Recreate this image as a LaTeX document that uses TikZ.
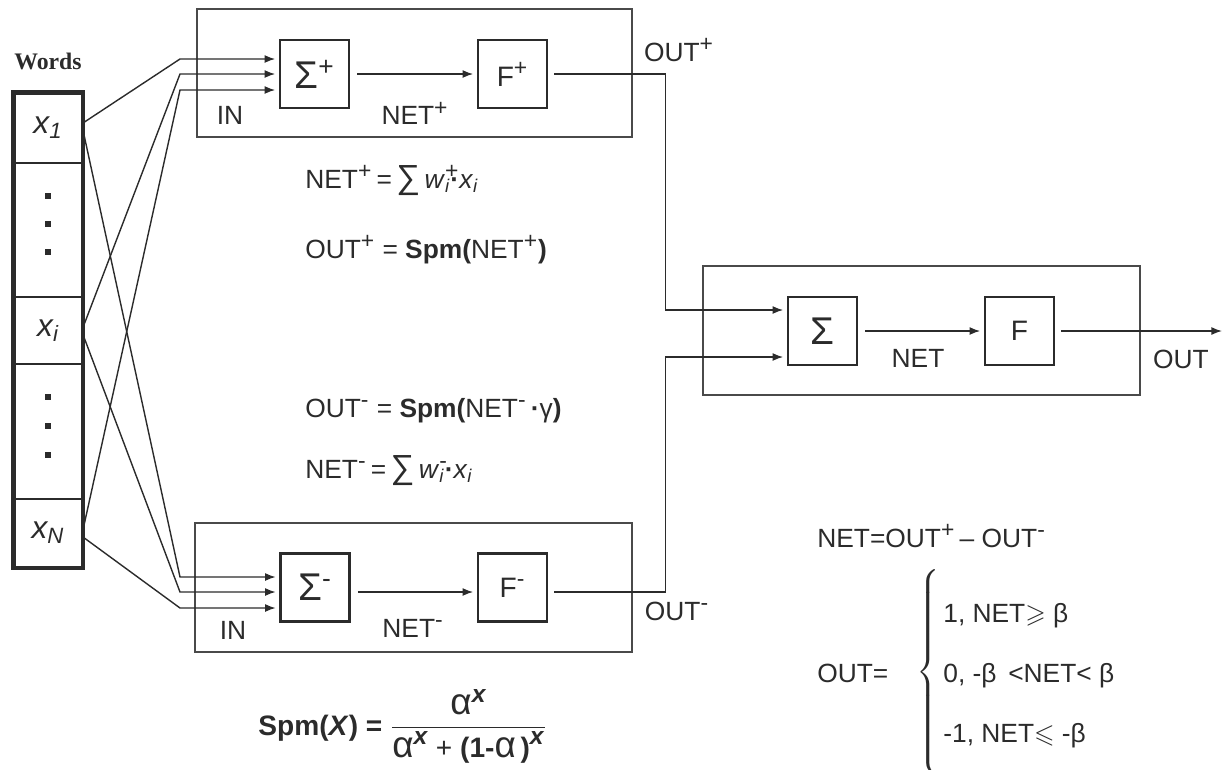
\documentclass[tikz,border=0pt]{standalone}
\usepackage{fontspec}
\usepackage{amsmath,amssymb}
\setmainfont{Liberation Sans}
\newfontfamily\wordsfont{Liberation Serif}
\usetikzlibrary{arrows.meta,positioning,calc}
\definecolor{ink}{HTML}{2B2B2B}
\definecolor{framegray}{HTML}{4A4A4A}
\newcommand{\sigfont}{\fontsize{22}{24}\selectfont}
\newcommand{\fnfont}{\fontsize{16}{18}\selectfont}
\newcommand{\sups}[1]{\textsuperscript{\fontsize{13}{13}\selectfont #1}}
\newcommand{\bigsups}[1]{\textsuperscript{\fontsize{15}{15}\selectfont #1}}
\newcommand{\sumsign}{{\fontsize{19}{19}\selectfont ∑}}
\newcommand{\alf}{\text{\fontsize{21}{21}\selectfont α}}
\newcommand{\xpow}{^{\text{\fontsize{14}{14}\selectfont\bfseries\itshape x}}}
\tikzset{
  frame/.style={draw=framegray, line width=0.9pt},
  unit/.style={draw=ink, line width=1.5pt, minimum width=1.38cm, minimum height=1.36cm, inner sep=0pt},
  cell/.style={draw=ink, line width=1.1pt, minimum width=1.36cm, inner sep=0pt, font=\fontsize{18}{20}\selectfont\itshape},
  wire/.style={draw=ink, line width=0.8pt},
  feed/.style={wire, -{Latex[length=6pt,width=4.5pt]}, shorten >=2pt},
  lbl/.style={inner sep=0pt},
  eq/.style={inner sep=0pt, anchor=base west},
}

\begin{document}
\begin{tikzpicture}[x=0.02cm, y=-0.02cm, font=\fontsize{15}{18}\selectfont, color=ink]
  \useasboundingbox (0,0) rectangle (1232,769);

  % word column
  \node[font=\wordsfont\bfseries\fontsize{13.5}{15}\selectfont] (words) at (48,61) {Words};
  \node[cell, minimum height=1.4cm] (w1) at (48,128) {x\textsubscript{1}};
  \node[cell, minimum height=2.68cm] (d1) at (48,230) {};
  \node[cell, minimum height=1.34cm] (wi) at (48,330.5) {x\textsubscript{i}};
  \node[cell, minimum height=2.7cm] (d2) at (48,431.5) {};
  \node[cell, minimum height=1.36cm] (wn) at (48,533) {x\textsubscript{N}};
  \draw[ink, line width=2.8pt] (w1.north west) rectangle (wn.south east);
  \foreach \y in {196,224,252,397,426,455}
    \fill[ink] (45,\y-3) rectangle (51,\y+3);

  % upper unit
  \draw[frame] (197,9) rectangle (632,137);
  \node[unit, font=\sigfont] (sp) at (314.5,74) {Σ\bigsups{+}};
  \node[unit, font=\fnfont] (fp) at (512.5,74) {F\sups{+}};
  \node[lbl] (inp) at (230,115) {IN};
  \node[lbl] (netp) at (415,113) {NET\sups{+}};
  \node[lbl] (outp) at (679,50) {OUT\sups{+}};

  % lower unit
  \draw[frame] (195,523) rectangle (632,652);
  \node[unit, font=\sigfont] (sm) at (315,587.5) {Σ\bigsups{-}};
  \node[unit, font=\fnfont] (fm) at (512.5,587.5) {F\sups{-}};
  \node[lbl] (inm) at (233,630) {IN};
  \node[lbl] (netm) at (413,628) {NET\sups{-}};
  \node[lbl] (outm) at (677,611) {OUT\sups{-}};

  % output unit
  \draw[frame] (703,266) rectangle (1140,395);
  \node[unit, font=\sigfont] (rs) at (822.5,331) {Σ};
  \node[unit, font=\fnfont] (rf) at (1019.5,331) {F};
  \node[lbl] (net) at (918,358) {NET};
  \node[lbl] (out) at (1181,359) {OUT};
  \coordinate (outend) at (1222,331);

  % inputs
  \foreach \w/\a/\b/\c in {w1/-5/59/-15, wi/-3/74/0, wn/-3/90/16}
    \draw[feed] ($(\w.east)+(0,\a)$) -- (180,\b) -- ($(sp.west)+(0,\c)$);
  \foreach \w/\a/\b/\c in {w1/2/577/-10.5, wi/4/592/4.5, wn/4/608/20.5}
    \draw[feed] ($(\w.east)+(0,\a)$) -- (180,\b) -- ($(sm.west)+(0,\c)$);

  % inside the units
  \draw[feed, shorten <=4pt] (sp) -- (fp);
  \draw[feed, shorten <=4pt] ($(sm.east)+(0,4.5)$) -- ($(fm.west)+(0,4.5)$);
  \draw[feed, shorten <=4pt] (rs) -- (rf);
  \draw[feed, shorten <=3.5pt, shorten >=0pt] (rf) -- (outend);

  % to the output unit
  \draw[feed, shorten <=3.5pt] (fp.east) -- ++(117,0) |- ($(rs.west)+(0,-21)$);
  \draw[feed, shorten <=3.5pt] ($(fm.east)+(0,4.5)$) -- ++(117,0) |- ($(rs.west)+(0,26)$);

  % formulas
  \node[eq] (eqnetp) at (305,188) {NET\sups{+}\,=\,\sumsign\,\textit{w}\rlap{\sups{+}}\textsubscript{\textit{i}}\textbf{·}\textit{x}\textsubscript{\textit{i}}};
  \node[eq] (eqoutp) at (305,258) {OUT\sups{+} = \textbf{Spm(}NET\sups{+}\textbf{)}};
  \node[eq] (eqoutm) at (305,417) {OUT\sups{-} = \textbf{Spm(}NET\sups{-}\,\textbf{·}γ\textbf{)}};
  \node[eq] (eqnetm) at (305,478) {NET\sups{-}\,=\,\sumsign\,\textit{w}\rlap{\sups{-}}\textsubscript{\textit{i}}\textbf{·}\textit{x}\textsubscript{\textit{i}}};
  \node[eq, font=\fontsize{16}{18}\selectfont] (spm) at (258,735) {\textbf{Spm(\textit{X}) =} $\dfrac{\alf\xpow}{\alf\xpow\text{ + \bfseries(1-}\alf\text{\bfseries\,)}\xpow}$};

  \node[eq] (neteq) at (817,547) {NET=OUT\sups{+}\,– OUT\sups{-}};
  \node[eq] (outeq) at (817,682) {OUT=};
  \node[inner sep=0pt] (brace) at (929,672) {$\left\{\vrule height 53pt depth 53pt width 0pt\right.$};
  \node[eq] (case1) at (943,622) {1, NET$\geqslant$ β};
  \node[eq] (case2) at (943,682) {0, -β \,<NET< β};
  \node[eq] (case3) at (943,742) {-1, NET$\leqslant$ -β};
\end{tikzpicture}
\end{document}
